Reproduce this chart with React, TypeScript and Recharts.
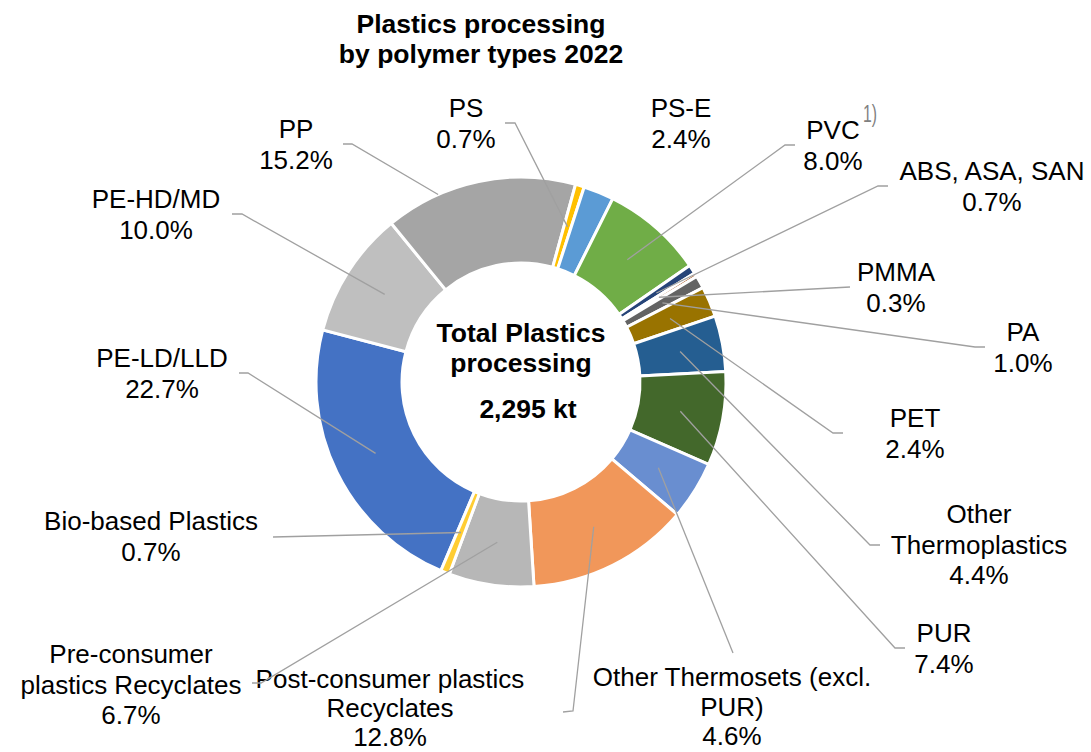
import { PieChart, Pie, Cell } from "recharts";

// Shares of total plastics processing by polymer, clockwise from PE-LD/LLD
const polymers = [
  "PE-LD/LLD",
  "PE-HD/MD",
  "PP",
  "PS",
  "PS-E",
  "PVC",
  "ABS, ASA, SAN",
  "PMMA",
  "PA",
  "PET",
  "Other Thermoplastics",
  "PUR",
  "Other Thermosets (excl. PUR)",
  "Post-consumer plastics Recyclates",
  "Pre-consumer plastics Recyclates",
  "Bio-based Plastics",
];
const shares = [22.7, 10.0, 15.2, 0.7, 2.4, 8.0, 0.7, 0.3, 1.0, 2.4, 4.4, 7.4, 4.6, 12.8, 6.7, 0.7];
const labelLines = [
  ["PE-LD/LLD"],
  ["PE-HD/MD"],
  ["PP"],
  ["PS"],
  ["PS-E"],
  ["PVC"],
  ["ABS, ASA, SAN"],
  ["PMMA"],
  ["PA"],
  ["PET"],
  ["Other", "Thermoplastics"],
  ["PUR"],
  ["Other Thermosets (excl.", "PUR)"],
  ["Post-consumer plastics", "Recyclates"],
  ["Pre-consumer", "plastics Recyclates"],
  ["Bio-based Plastics"],
];
const titleLines = ["Plastics processing", "by polymer types 2022"];
const centerLines = ["Total Plastics", "processing"];
const totalLabel = "2,295 kt";
const pvcNote = "1)";

const SLICE_COLORS = [
  "#4472C4", "#BFBFBF", "#A5A5A5", "#FFC000", "#5B9BD5", "#70AD47", "#264478", "#9E480E",
  "#636363", "#997300", "#255E91", "#43682B", "#698ED0", "#F1975A", "#B7B7B7", "#FFCD33",
];

// label anchor (centre x, first baseline) and the leader elbow next to the text
type LabelSpot = { x: number; y: number; step?: number; leader: number[][] | null; stopAtRim?: boolean };
const LABEL_SPOTS: LabelSpot[] = [
  { x: 162, y: 367, leader: [[239, 373], [248, 373]] },
  { x: 156, y: 208, leader: [[232, 214], [242, 214]] },
  { x: 296, y: 138, leader: [[343, 144], [352, 144]], stopAtRim: true },
  { x: 466, y: 117, leader: [[505, 123], [515, 123]] },
  { x: 681, y: 117, leader: null },
  { x: 833, y: 139, leader: [[795, 145], [785, 145]] },
  { x: 992, y: 180, leader: [[888, 186], [878, 186]] },
  { x: 896, y: 281, leader: [[850, 287]] },
  { x: 1023, y: 341, leader: [[985, 347], [975, 347]] },
  { x: 915, y: 427, leader: [[843, 433], [833, 433]] },
  { x: 979, y: 523, leader: [[880, 545], [870, 545]] },
  { x: 944, y: 642, leader: [[905, 648], [895, 648]] },
  { x: 732, y: 686, step: 29.5, leader: [[733, 653]] },
  { x: 390, y: 688, step: 29, leader: [[563, 712], [573, 711]] },
  { x: 131, y: 663, leader: [[252, 683], [261, 683]] },
  { x: 151, y: 530, leader: [[273, 537]] },
];

const FONT = '"Liberation Sans", Arial, Helvetica, sans-serif';
const LINE_STEP = 30.5;
const LEADER_COLOR = "#A0A0A0";
const RADIAN = Math.PI / 180;

const CX = 521;
const CY = 382;

const data = polymers.map((name, i) => ({ name, share: shares[i] }));

function renderLabel(props: any) {
  const { cx, cy, midAngle, innerRadius, outerRadius, index } = props;
  const spot = LABEL_SPOTS[index];
  const midR = (innerRadius + outerRadius) / 2;
  let tip = [cx + midR * Math.cos(-midAngle * RADIAN), cy + midR * Math.sin(-midAngle * RADIAN)];

  let points: number[][] = [];
  if (spot.leader) {
    const elbow = spot.leader[spot.leader.length - 1];
    if (spot.stopAtRim) {
      // cut the leader where it meets the outer edge of the ring
      const dx = tip[0] - elbow[0];
      const dy = tip[1] - elbow[1];
      const fx = elbow[0] - cx;
      const fy = elbow[1] - cy;
      const a = dx * dx + dy * dy;
      const b = 2 * (fx * dx + fy * dy);
      const c = fx * fx + fy * fy - outerRadius * outerRadius;
      const t = (-b - Math.sqrt(b * b - 4 * a * c)) / (2 * a);
      tip = [elbow[0] + t * dx, elbow[1] + t * dy];
    }
    points = [...spot.leader, tip];
  }

  const lines = [...labelLines[index], `${shares[index].toFixed(1)}%`];
  const step = spot.step ?? LINE_STEP;

  return (
    <g key={`lbl-${index}`}>
      {points.length > 0 && (
        <polyline
          points={points.map((p) => p.join(",")).join(" ")}
          fill="none"
          stroke={LEADER_COLOR}
          strokeWidth={1.3}
        />
      )}
      {lines.map((line, j) => (
        <text
          key={j}
          x={spot.x}
          y={spot.y + j * step}
          textAnchor="middle"
          fontFamily={FONT}
          fontSize={26}
          fill="#000000"
        >
          {line}
        </text>
      ))}
      {polymers[index] === "PVC" && (
        <text
          x={spot.x + 30}
          y={spot.y - 17}
          fontFamily={FONT}
          fontSize={23}
          fill="#808080"
          textLength={14}
          lengthAdjust="spacingAndGlyphs"
        >
          {pvcNote}
        </text>
      )}
    </g>
  );
}

export default function App() {
  return (
    <div style={{ position: "absolute", left: 0, top: 0, width: 1091, height: 752, background: "#ffffff" }}>
      <PieChart width={1091} height={752} margin={{ top: 0, right: 0, bottom: 0, left: 0 }}>
        <Pie
          data={data}
          dataKey="share"
          nameKey="name"
          cx={CX}
          cy={CY}
          innerRadius={119}
          outerRadius={205}
          startAngle={-113}
          endAngle={-473}
          stroke="#ffffff"
          strokeWidth={3}
          label={renderLabel}
          labelLine={false}
          isAnimationActive={false}
        >
          {data.map((_, i) => (
            <Cell key={i} fill={SLICE_COLORS[i]} />
          ))}
        </Pie>
        {titleLines.map((line, i) => (
          <text
            key={`t${i}`}
            x={481}
            y={33 + i * 30}
            textAnchor="middle"
            fontFamily={FONT}
            fontWeight="bold"
            fontSize={26.5}
            fill="#000000"
          >
            {line}
          </text>
        ))}
        {centerLines.map((line, i) => (
          <text
            key={`c${i}`}
            x={CX}
            y={342 + i * 29.5}
            textAnchor="middle"
            fontFamily={FONT}
            fontWeight="bold"
            fontSize={26.5}
            fill="#000000"
          >
            {line}
          </text>
        ))}
        <text x={528} y={418} textAnchor="middle" fontFamily={FONT} fontWeight="bold" fontSize={26.5} fill="#000000">
          {totalLabel}
        </text>
      </PieChart>
    </div>
  );
}
